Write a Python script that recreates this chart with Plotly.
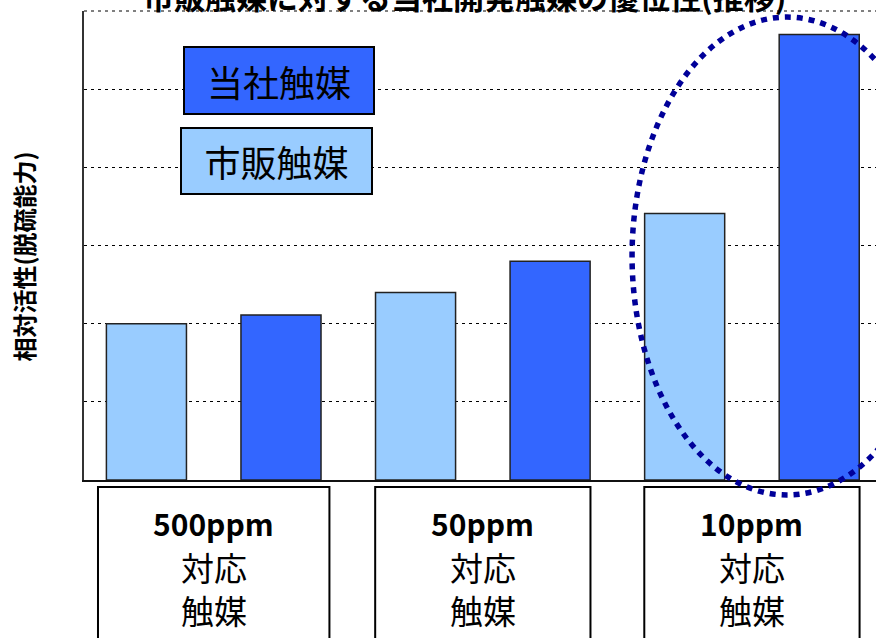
import plotly.graph_objects as go

# Catalyst groups (target sulfur level) and relative activity values
categories = ["500ppm", "50ppm", "10ppm"]
market_values = [2.0, 2.4, 3.41]      # 市販触媒
company_values = [2.11, 2.8, 5.7]     # 当社触媒

series_names = ["市販触媒", "当社触媒"]
label_lines = ["対応", "触媒"]
title_text = "市販触媒に対する当社開発触媒の優位性(推移)"
y_title = "相対活性(脱硫能力)"

FONT = "Noto Sans CJK JP"
LIGHT = "#99CCFF"
DARK = "#3366FF"
NAVY = "#000099"

x_idx = list(range(len(categories)))

fig = go.Figure()
fig.add_trace(go.Bar(
    x=x_idx, y=market_values, name=series_names[0],
    marker=dict(color=LIGHT, line=dict(color="#222222", width=1.5)),
))
fig.add_trace(go.Bar(
    x=x_idx, y=company_values, name=series_names[1],
    marker=dict(color=DARK, line=dict(color="#222222", width=1.5)),
))

shapes = []
annotations = []

# Dotted frame line along the top of the plot (level 6)
shapes.append(dict(
    type="line", xref="paper", yref="paper", x0=0, x1=1, y0=1, y1=1,
    line=dict(color="black", width=1, dash="3px,4px"), layer="above",
))

# Framed category labels under each group
box_half = [0.43, 0.40, 0.40]
line_y = [-0.0917, -0.1854, -0.2772]
for i, cat in enumerate(categories):
    shapes.append(dict(
        type="rect", xref="x", yref="paper",
        x0=i - box_half[i], x1=i + box_half[i], y0=-0.015, y1=-0.45,
        line=dict(color="black", width=2), fillcolor="white", layer="below",
    ))
    texts = ["<b>" + cat + "</b>"] + label_lines
    sizes = [30, 33, 33]
    for t, yy, sz in zip(texts, line_y, sizes):
        annotations.append(dict(
            xref="x", yref="paper", x=i, y=yy, text=t,
            showarrow=False, xanchor="center", yanchor="middle",
            font=dict(family=FONT, size=sz, color="black"),
        ))

# Dotted ellipse highlighting the 10ppm group
shapes.append(dict(
    type="circle", xref="paper", yref="paper",
    x0=0.692, x1=1.083, y0=-0.032, y1=0.987,
    line=dict(color=NAVY, width=5.5, dash="6px,6px"),
    layer="above",
))

# Boxed series key
annotations.append(dict(
    xref="paper", yref="paper", x=0.246, y=0.852,
    text=series_names[1], showarrow=False, xanchor="center", yanchor="middle",
    font=dict(family=FONT, size=36, color="black"),
    bgcolor=DARK, bordercolor="black", borderwidth=2, borderpad=0,
    width=188, height=65,
))
annotations.append(dict(
    xref="paper", yref="paper", x=0.243, y=0.680,
    text=series_names[0], showarrow=False, xanchor="center", yanchor="middle",
    font=dict(family=FONT, size=36, color="black"),
    bgcolor=LIGHT, bordercolor="black", borderwidth=2, borderpad=0,
    width=189, height=64,
))

# Title (partly above the top edge) and vertical axis title
annotations.append(dict(
    xref="paper", yref="paper", x=0.481, y=1.032,
    text="<b>" + title_text + "</b>", showarrow=False,
    xanchor="center", yanchor="middle",
    font=dict(family=FONT, size=31, color="black"),
))
annotations.append(dict(
    xref="paper", yref="paper", x=-0.076, y=0.476,
    text="<b>" + y_title + "</b>", showarrow=False, textangle=-90,
    xanchor="center", yanchor="middle",
    font=dict(family=FONT, size=24, color="black"),
))

fig.update_layout(
    width=876, height=638, autosize=False,
    margin=dict(l=84, r=0, t=11, b=158, pad=0),
    paper_bgcolor="white", plot_bgcolor="white",
    barmode="group", bargap=0.0, bargroupgap=0.405,
    showlegend=False,
    shapes=shapes, annotations=annotations,
    xaxis=dict(
        range=[-0.482, 2.461], showticklabels=False, ticks="",
        showgrid=False, zeroline=False,
        showline=True, linecolor="#111111", linewidth=2,
    ),
    yaxis=dict(
        range=[0, 6], dtick=1, tick0=0, showticklabels=False, ticks="",
        showgrid=True, gridcolor="black", gridwidth=1, griddash="3px,4px",
        zeroline=False,
        showline=True, linecolor="#333333", linewidth=1.5,
    ),
)

fig.write_html("out.html")
